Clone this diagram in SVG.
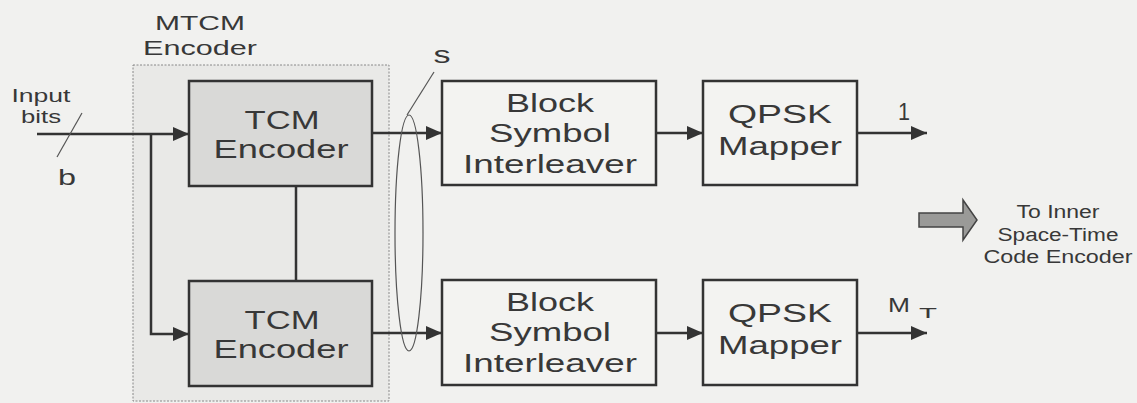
<svg xmlns="http://www.w3.org/2000/svg" width="1137" height="403" viewBox="0 0 1137 403">
<defs>
<style>
.bg{fill:#f1f1ef}
.box{fill:none;stroke:#333;stroke-width:2.5}
.gbox{fill:#d9d9d7;stroke:#333;stroke-width:2.5}
.wbox{fill:#f3f3f1;stroke:#333;stroke-width:2.5}
.ln{fill:none;stroke:#333;stroke-width:2.5}
.thin{fill:none;stroke:#555;stroke-width:1.2}
text{font-family:"Liberation Sans",Arial,sans-serif;fill:#383838;text-anchor:middle}
.t{font-size:26px}
.m{font-size:25px}
.s{font-size:18px}
</style>
<marker id="ah" markerUnits="userSpaceOnUse" markerWidth="17" markerHeight="14" refX="16" refY="7" orient="auto">
<path d="M0,0 L16,7 L0,14 Z" fill="#333"/>
</marker>
</defs>
<rect class="bg" x="0" y="0" width="1137" height="403"/>

<g id="mtcm">
<rect x="133" y="65" width="256" height="336" fill="#e9e9e7" stroke="#888" stroke-width="1" stroke-dasharray="2,1.5"/>
<text class="s" x="200" y="30" font-size="21" textLength="90" lengthAdjust="spacingAndGlyphs" style="font-size:21px">MTCM</text>
<text class="s" x="200" y="55" textLength="114" lengthAdjust="spacingAndGlyphs" style="font-size:21px">Encoder</text>
</g>

<g id="connectors">
<path class="ln" d="M37,134 L189,134" marker-end="url(#ah)"/>
<path class="ln" d="M151,134 L151,334 L189,334" marker-end="url(#ah)"/>
<path class="ln" d="M296,186 L296,281"/>
<path class="ln" d="M372,133 L442,133" marker-end="url(#ah)"/>
<path class="ln" d="M372,333 L442,333" marker-end="url(#ah)"/>
<path class="ln" d="M656,133 L703,133" marker-end="url(#ah)"/>
<path class="ln" d="M656,333 L703,333" marker-end="url(#ah)"/>
<path class="ln" d="M857,133 L927,133" marker-end="url(#ah)"/>
<path class="ln" d="M857,333 L927,333" marker-end="url(#ah)"/>
<path class="thin" d="M82,113 L57,157" stroke-width="1.5"/>
<ellipse class="thin" cx="409" cy="233" rx="14" ry="118"/>
<path class="thin" d="M434,72 L407,115"/>
</g>

<g id="labels">
<text class="s" x="41" y="102" textLength="59" lengthAdjust="spacingAndGlyphs">Input</text>
<text class="s" x="41" y="123" textLength="40" lengthAdjust="spacingAndGlyphs">bits</text>
<text x="67" y="185" style="font-size:22px" textLength="18" lengthAdjust="spacingAndGlyphs">b</text>
<text x="442" y="63" style="font-size:23px" textLength="17" lengthAdjust="spacingAndGlyphs">s</text>
<text x="904" y="120" style="font-size:23px" textLength="12" lengthAdjust="spacingAndGlyphs">1</text>
<text x="899" y="312" style="font-size:21px" textLength="22" lengthAdjust="spacingAndGlyphs">M</text>
<text x="928" y="318" style="font-size:15px" textLength="18" lengthAdjust="spacingAndGlyphs">T</text>
</g>

<g id="tcm1">
<rect class="gbox" x="189" y="81" width="183" height="105"/>
<text class="t" x="282" y="129" textLength="75" lengthAdjust="spacingAndGlyphs">TCM</text>
<text class="t" x="281" y="158" textLength="135" lengthAdjust="spacingAndGlyphs">Encoder</text>
</g>
<g id="tcm2">
<rect class="gbox" x="189" y="281" width="183" height="105"/>
<text class="t" x="282" y="329" textLength="75" lengthAdjust="spacingAndGlyphs">TCM</text>
<text class="t" x="281" y="358" textLength="135" lengthAdjust="spacingAndGlyphs">Encoder</text>
</g>

<g id="bsi1">
<rect class="wbox" x="442" y="81" width="214" height="104"/>
<text class="m" x="550" y="112" textLength="88" lengthAdjust="spacingAndGlyphs">Block</text>
<text class="m" x="550" y="142" textLength="122" lengthAdjust="spacingAndGlyphs">Symbol</text>
<text class="m" x="550" y="173" textLength="174" lengthAdjust="spacingAndGlyphs">Interleaver</text>
</g>
<g id="bsi2">
<rect class="wbox" x="442" y="280" width="214" height="105"/>
<text class="m" x="550" y="311" textLength="88" lengthAdjust="spacingAndGlyphs">Block</text>
<text class="m" x="550" y="341" textLength="122" lengthAdjust="spacingAndGlyphs">Symbol</text>
<text class="m" x="550" y="372" textLength="174" lengthAdjust="spacingAndGlyphs">Interleaver</text>
</g>

<g id="qpsk1">
<rect class="wbox" x="703" y="81" width="154" height="104"/>
<text class="m" x="780" y="123" textLength="104" lengthAdjust="spacingAndGlyphs">QPSK</text>
<text class="m" x="780" y="155" textLength="124" lengthAdjust="spacingAndGlyphs">Mapper</text>
</g>
<g id="qpsk2">
<rect class="wbox" x="703" y="280" width="154" height="105"/>
<text class="m" x="780" y="322" textLength="104" lengthAdjust="spacingAndGlyphs">QPSK</text>
<text class="m" x="780" y="354" textLength="124" lengthAdjust="spacingAndGlyphs">Mapper</text>
</g>

<g id="out">
<path d="M919,213 L963,213 L963,200 L977,220 L963,240 L963,227 L919,227 Z" fill="#9a9a98" stroke="#444" stroke-width="1.5"/>
<text class="s" x="1058" y="218" textLength="83" lengthAdjust="spacingAndGlyphs">To Inner</text>
<text class="s" x="1058" y="241" textLength="121" lengthAdjust="spacingAndGlyphs">Space-Time</text>
<text class="s" x="1058" y="263" textLength="149" lengthAdjust="spacingAndGlyphs">Code Encoder</text>
</g>
</svg>
